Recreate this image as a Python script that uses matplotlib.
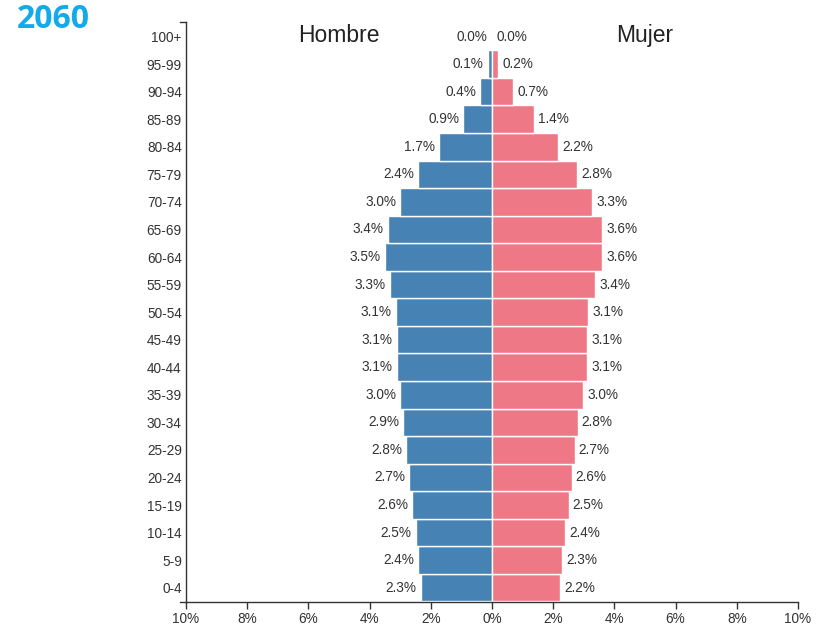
import matplotlib.pyplot as plt

grupos = ["0-4", "5-9", "10-14", "15-19", "20-24", "25-29", "30-34", "35-39",
          "40-44", "45-49", "50-54", "55-59", "60-64", "65-69", "70-74",
          "75-79", "80-84", "85-89", "90-94", "95-99", "100+"]
hombre = [2.33, 2.42, 2.5, 2.6, 2.7, 2.8, 2.9, 3.0, 3.1, 3.1, 3.14, 3.33,
          3.5, 3.4, 3.0, 2.42, 1.73, 0.94, 0.39, 0.13, 0.01]
mujer = [2.22, 2.3, 2.4, 2.5, 2.6, 2.7, 2.8, 2.97, 3.1, 3.1, 3.14, 3.37,
         3.59, 3.59, 3.27, 2.78, 2.16, 1.37, 0.69, 0.2, 0.02]
ticks_x = [-10, -8, -6, -4, -2, 0, 2, 4, 6, 8, 10]

azul = "#4682b4"
rosa = "#ef7886"
gris = "#333333"

plt.rcParams["font.family"] = ["Liberation Sans", "DejaVu Sans"]

fig = plt.figure(figsize=(8.16, 6.32), dpi=100)
ax = fig.add_axes([186 / 816, 1 - 602 / 632, 612 / 816, 580 / 632])

y = list(range(len(grupos)))
ax.barh(y, [-v for v in hombre], height=1.0, color=azul, edgecolor="white", linewidth=1)
ax.barh(y, mujer, height=1.0, color=rosa, edgecolor="white", linewidth=1)

for i in y:
    ax.annotate(f"{hombre[i]:.1f}%", (-hombre[i], i), xytext=(-3, 0), textcoords="offset points",
                ha="right", va="center", fontsize=9.8, color=gris)
    ax.annotate(f"{mujer[i]:.1f}%", (mujer[i], i), xytext=(3, 0), textcoords="offset points",
                ha="left", va="center", fontsize=9.8, color=gris)

ax.set_xlim(-10, 10)
ax.set_ylim(-0.52, 20.53)
ax.set_xticks(ticks_x)
ax.set_xticklabels([f"{abs(t)}%" for t in ticks_x])
ax.set_yticks(y)
ax.set_yticklabels(grupos)
ax.tick_params(axis="y", length=0, pad=3, labelsize=9.8, labelcolor=gris)
ax.tick_params(axis="x", length=5, width=1, pad=2, labelsize=9.8, labelcolor=gris, color=gris)

for s in ["top", "right"]:
    ax.spines[s].set_visible(False)
for s in ["left", "bottom"]:
    ax.spines[s].set_color(gris)
    ax.spines[s].set_linewidth(1)

# ticks exteriores del eje y
for yy in [20.53, -0.52]:
    ax.plot([-10.2, -10], [yy, yy], color=gris, lw=1, clip_on=False)

ax.text(-5, 20.05, "Hombre", ha="center", va="center", fontsize=16.5, color="#222222")
ax.text(5, 20.05, "Mujer", ha="center", va="center", fontsize=16.5, color="#222222")

fig.text(17 / 816, 1 - 28 / 632, "2060", ha="left", va="baseline", fontsize=23,
         fontweight="bold", color="#12aae8", family=["Open Sans", "DejaVu Sans"])

fig.savefig("out.png", dpi=100)
